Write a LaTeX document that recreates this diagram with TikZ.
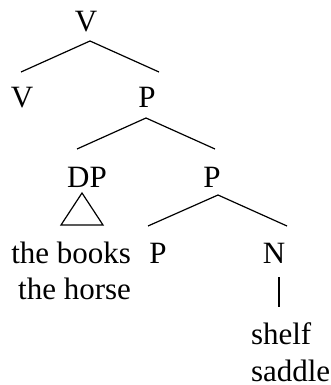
\documentclass[tikz,border=0pt]{standalone}
\usepackage{fontspec}
\setmainfont{Liberation Serif}
\begin{document}
\begin{tikzpicture}[x=1pt,y=1pt,
  lbl/.style={inner sep=0pt,outer sep=0pt,font=\fontsize{31}{37}\selectfont},
  edge/.style={line width=1.2pt,line join=miter}]
\useasboundingbox (0,0) rectangle (331,-385);
% labels
\node[lbl,anchor=base] (v0) at (86,-31.5) {V};
\node[lbl,anchor=base] (v1) at (22,-108) {V};
\node[lbl,anchor=base] (p1) at (147,-108) {P};
\node[lbl,anchor=base] (dp) at (87,-187) {DP};
\node[lbl,anchor=base] (p2) at (212,-187) {P};
\node[lbl,anchor=base east] (tb) at (131,-263) {the books};
\node[lbl,anchor=base east] (th) at (131,-299) {the horse};
\node[lbl,anchor=base] (p3) at (158,-263) {P};
\node[lbl,anchor=base] (n1) at (274,-263) {N};
\node[lbl,anchor=base west] (sh) at (251,-344) {shelf};
\node[lbl,anchor=base west] (sa) at (251,-381) {saddle};
% connector points
\coordinate (a0) at (90,-41);
\coordinate (a0l) at (21,-72);
\coordinate (a0r) at (159,-72);
\coordinate (a1) at (146,-118);
\coordinate (a1l) at (77,-149);
\coordinate (a1r) at (215,-149);
\coordinate (t0) at (82,-193);
\coordinate (tl) at (61,-225);
\coordinate (tr) at (103,-225);
\coordinate (a2) at (218,-195);
\coordinate (a2l) at (148,-226);
\coordinate (a2r) at (287,-226);
\coordinate (nt) at (279,-277);
\coordinate (nb) at (279,-307);
% edges
\draw[edge] (a0l) -- (a0) -- (a0r);
\draw[edge] (a1l) -- (a1) -- (a1r);
\draw[edge] (t0) -- (tl) -- (tr) -- cycle;
\draw[edge] (a2l) -- (a2) -- (a2r);
\draw[edge] (nt) -- (nb);
\end{tikzpicture}
\end{document}
